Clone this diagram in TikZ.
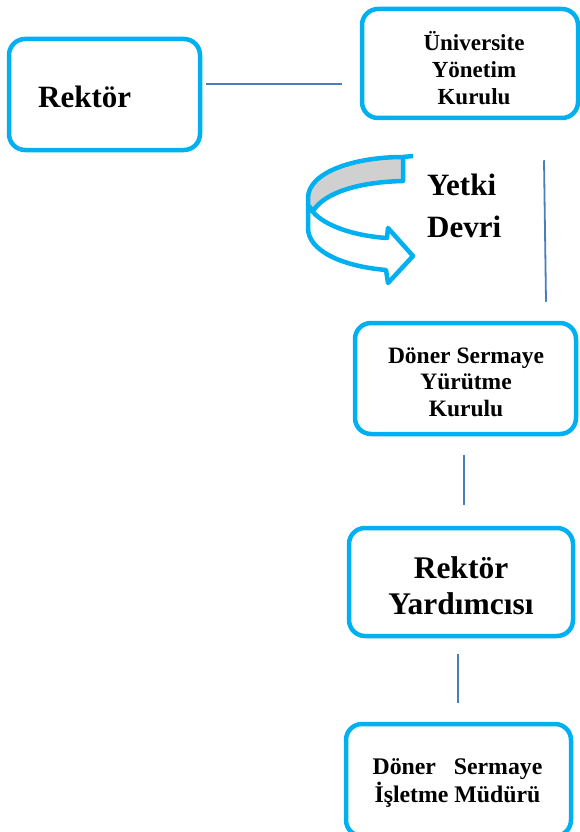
\documentclass[tikz,border=0pt]{standalone}
\usepackage{fontspec}
\setmainfont{Liberation Serif}
\usetikzlibrary{calc}
\definecolor{boxc}{HTML}{00B0F0}
\definecolor{connc}{HTML}{4A7EBB}
\definecolor{bandgray}{HTML}{D0D0D0}
\tikzset{
  orgbox/.style={draw=boxc, line width=4.5pt, rounded corners=16pt, fill=white,
    inner sep=0pt},
  boxtext/.style={align=center, inner sep=0pt, font=\bfseries},
  conn/.style={draw=connc, line width=1.8pt},
  arrowline/.style={draw=boxc, line width=4.5pt, line join=round}
}
\begin{document}
\begin{tikzpicture}[x=1pt,y=-1pt]
\useasboundingbox (0,0) rectangle (580,832);
\clip (0,0) rectangle (580,832);

% boxes
\node[orgbox, minimum width=191pt, minimum height=111pt] (rek) at (104.5,94.5) {};
\node[orgbox, minimum width=216pt, minimum height=109pt] (uyk) at (470,63.5) {};
\node[orgbox, minimum width=221pt, minimum height=111pt] (dsyk) at (465.5,378.5) {};
\node[orgbox, minimum width=224pt, minimum height=108pt] (ry) at (461,582) {};
\node[orgbox, minimum width=225pt, minimum height=112pt] (dsim) at (458.5,780) {};

% texts
\node[boxtext, anchor=west, font=\bfseries\fontsize{31}{35}\selectfont] (rekt)
  at ($(rek.center)+(-66.5,2)$) {Rektör};
\node[boxtext, font=\bfseries\fontsize{23}{27}\selectfont] (uykt)
  at ($(uyk.center)+(4,4.5)$) {Üniversite\\Yönetim\\Kurulu};
\node[boxtext, font=\bfseries\fontsize{23.5}{26.5}\selectfont] (dsykt)
  at ($(dsyk.center)+(0.5,3.5)$) {Döner Sermaye\\Yürütme\\Kurulu};
\node[boxtext, font=\bfseries\fontsize{31.5}{36}\selectfont] (ryt)
  at ($(ry.center)+(0,4)$) {Rektör\\Yardımcısı};
\node[boxtext, font=\bfseries\fontsize{23.8}{28}\selectfont] (dsimt)
  at ($(dsim.center)+(-1,2.5)$) {Döner\hspace{0.75em}Sermaye\\İşletme Müdürü};

% connectors
\draw[conn] ($(rek.east)+(4,-10.5)$) -- ($(uyk.west)+(-18,20.5)$);
\draw[conn] ($(uyk.south)+(74,40)$) -- ($(dsyk.north)+(80.5,-19)$);
\draw[conn] ($(dsyk.south)+(-1.5,19)$) -- ($(ry.north)+(3,-21)$);
\draw[conn] ($(ry.south)+(-3,16)$) -- ($(dsim.north)+(-0.5,-19)$);

% curved arrow (Yetki Devri)
\draw[arrowline, fill=white]
  (313,212) .. controls (325,226) and (355,236) .. (387,238)
  -- (388,228) -- (413,256) -- (388,283) -- (386,270)
  .. controls (340,266) and (308,250) .. (308,228)
  -- (308,205) -- cycle;
\draw[arrowline, fill=bandgray]
  (403,157) .. controls (355,157) and (308,172) .. (308,198)
  -- (308,205) -- (313,211)
  .. controls (325,192) and (360,182) .. (403,181) -- cycle;
\draw[arrowline] (403,157) -- (413,156);

\node[anchor=base west, align=left, inner sep=0pt,
      font=\bfseries\fontsize{31}{42}\selectfont] (yd) at (427,237)
      {Yetki\\Devri};
\end{tikzpicture}
\end{document}
